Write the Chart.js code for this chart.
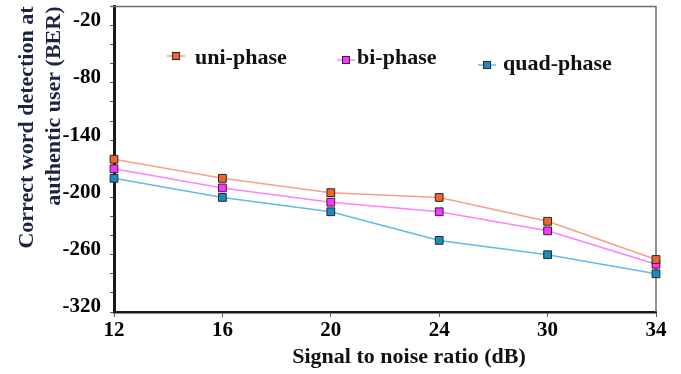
<!DOCTYPE html>
<html>
<head>
<meta charset="utf-8">
<script src="https://cdn.jsdelivr.net/npm/chart.js@4"></script>
<style>
  html, body { margin: 0; padding: 0; background: #fff; }
</style>
</head>
<body>
<canvas id="chart" width="681" height="374"></canvas>
<script>
// values
const snrLabels = ['12', '16', '20', '24', '30', '34'];
const uniPhase = [-160, -180, -195, -200, -225, -265];
const biPhase = [-170, -190, -205, -215, -235, -270];
const quadPhase = [-180, -200, -215, -245, -260, -280];
const yTickLabels = [-20, -80, -140, -200, -260, -320];
const seriesNames = ['uni-phase', 'bi-phase', 'quad-phase'];
const xTitle = 'Signal to noise ratio (dB)';

const serif = '"Liberation Serif", "Times New Roman", serif';

// line colour, marker colour
const colours = [
  ['#f7a085', '#f2642a'],
  ['#ff80ff', '#ff33ff'],
  ['#62bde0', '#1a8cbe']
];

// the legend items sit at staggered spots in the original
const legendSpots = [
  { mx: 176, my: 56, tx: 195, ty: 58 },
  { mx: 346, my: 60, tx: 357, ty: 58 },
  { mx: 487, my: 65, tx: 503, ty: 64 }
];

function makeSet(i, data) {
  return {
    label: seriesNames[i],
    data: data,
    borderColor: colours[i][0],
    backgroundColor: colours[i][1],
    borderWidth: 1.5,
    pointStyle: 'rect',
    pointRadius: 5.5,
    pointHoverRadius: 5.5,
    pointBackgroundColor: colours[i][1],
    pointBorderColor: '#2a2a2a',
    pointBorderWidth: 1,
    tension: 0,
    clip: false
  };
}

const framePlugin = {
  id: 'frame',
  beforeDatasetsDraw(chart) {
    const a = chart.chartArea;
    const ctx = chart.ctx;
    ctx.save();
    ctx.strokeStyle = '#6e6e6e';
    ctx.lineWidth = 1.5;
    ctx.beginPath();
    ctx.moveTo(a.left - 4, a.top);
    ctx.lineTo(a.right, a.top);
    ctx.lineTo(a.right, a.bottom);
    ctx.stroke();
    ctx.restore();
  }
};

const legendPlugin = {
  id: 'spotLegend',
  afterDraw(chart) {
    const ctx = chart.ctx;
    ctx.save();
    legendSpots.forEach((s, i) => {
      ctx.strokeStyle = colours[i][0];
      ctx.lineWidth = 1.5;
      ctx.beginPath();
      ctx.moveTo(s.mx - 9, s.my);
      ctx.lineTo(s.mx + 9, s.my);
      ctx.stroke();
      ctx.fillStyle = colours[i][1];
      ctx.strokeStyle = '#2a2a2a';
      ctx.lineWidth = 1;
      ctx.fillRect(s.mx - 3.5, s.my - 3.5, 7, 7);
      ctx.strokeRect(s.mx - 3.5, s.my - 3.5, 7, 7);
      ctx.fillStyle = '#111';
      ctx.font = 'bold 22px ' + serif;
      ctx.textBaseline = 'middle';
      ctx.textAlign = 'left';
      ctx.fillText(seriesNames[i], s.tx, s.ty);
    });
    // x axis title, a bit right of centre as in the figure
    ctx.font = 'bold 22px ' + serif;
    ctx.fillStyle = '#111';
    ctx.textAlign = 'center';
    ctx.textBaseline = 'middle';
    ctx.fillText(xTitle, 409, 357);
    ctx.restore();
  }
};

new Chart(document.getElementById('chart').getContext('2d'), {
  type: 'line',
  data: {
    labels: snrLabels,
    datasets: [makeSet(0, uniPhase), makeSet(1, biPhase), makeSet(2, quadPhase)]
  },
  options: {
    responsive: false,
    animation: false,
    devicePixelRatio: 1,
    layout: { padding: { top: 5, right: 25, left: 0, bottom: 0 } },
    plugins: {
      legend: { display: false },
      tooltip: { enabled: false }
    },
    scales: {
      x: {
        offset: false,
        border: { color: '#1a1a1a', width: 2.5 },
        grid: { drawOnChartArea: false, tickLength: 5, color: '#555' },
        ticks: {
          color: '#000',
          padding: 1,
          maxRotation: 0,
          autoSkip: false,
          font: { family: serif, size: 21, weight: 'bold' }
        },
        afterFit(scale) { scale.height = 62; }
      },
      y: {
        min: -320,
        max: 0,
        border: { color: '#1a1a1a', width: 3 },
        grid: { drawOnChartArea: false, tickLength: 4, color: '#555' },
        ticks: {
          stepSize: 20,
          autoSkip: false,
          color: '#000',
          padding: 9,
          labelOffset: -5,
          font: { family: serif, size: 21, weight: 'bold' },
          callback: (v) => yTickLabels.includes(v) ? String(v) : ''
        },
        title: {
          display: true,
          text: ['Correct word detection at', 'authentic user (BER)'],
          align: 'end',
          color: '#1c2440',
          padding: { top: 14, bottom: 0 },
          font: { family: serif, size: 22, weight: 'bold', lineHeight: 1.23 }
        },
        afterFit(scale) {
          scale.width = 114;
          scale.paddingTop = 0;
          scale.paddingBottom = 0;
        }
      }
    }
  },
  plugins: [framePlugin, legendPlugin]
});
</script>
</body>
</html>
